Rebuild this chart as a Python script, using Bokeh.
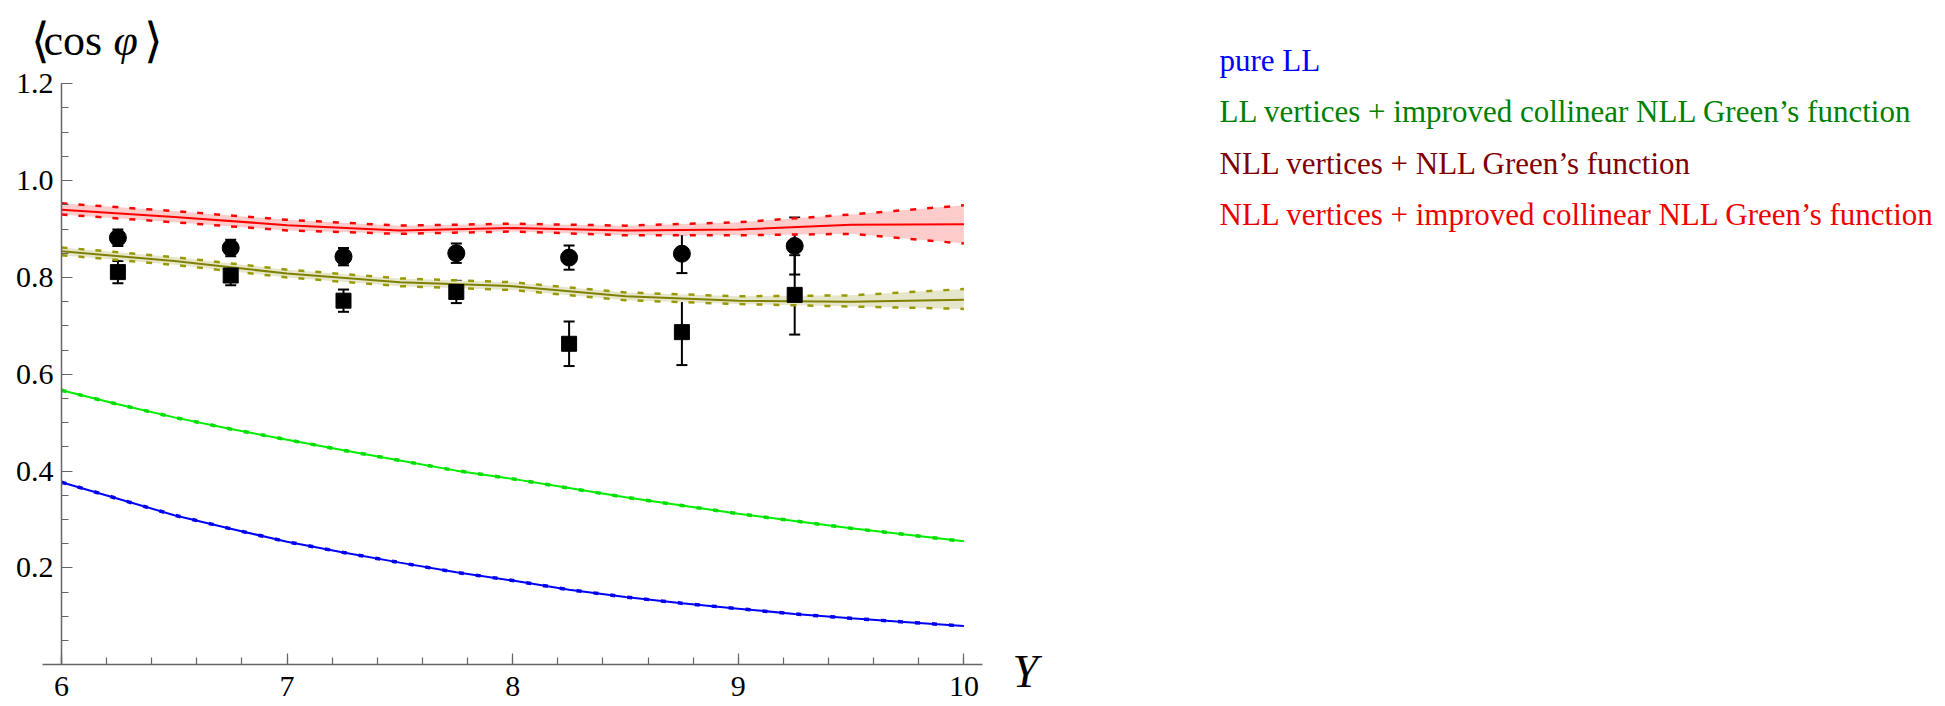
from bokeh.plotting import figure
from bokeh.models import (LinearAxis, FixedTicker, NumeralTickFormatter, Range1d,
                          ColumnDataSource, Whisker, TeeHead, Label)
from bokeh.embed import file_html
from bokeh.resources import INLINE

# ---------------- data ----------------
Y_fine = [6.0, 6.25, 6.5, 6.75, 7.0, 7.25, 7.5, 7.75, 8.0,
          8.25, 8.5, 8.75, 9.0, 9.25, 9.5, 9.75, 10.0]
pure_LL = [0.377, 0.343, 0.309, 0.281, 0.254, 0.232, 0.211, 0.191, 0.174,
           0.155, 0.140, 0.127, 0.116, 0.105, 0.096, 0.088, 0.080]
LL_impr = [0.567, 0.538, 0.511, 0.487, 0.465, 0.443, 0.422, 0.401, 0.384,
           0.365, 0.346, 0.329, 0.312, 0.297, 0.282, 0.2685, 0.255]

Y_grid = [6.0, 6.5, 7.0, 7.5, 8.0, 8.5, 9.0, 9.5, 10.0]
NLL_NLL = [0.854, 0.834, 0.808, 0.790, 0.782, 0.761, 0.752, 0.750, 0.754]
NLL_NLL_up = [0.862, 0.842, 0.816, 0.798, 0.790, 0.769, 0.761, 0.763, 0.776]
NLL_NLL_lo = [0.846, 0.826, 0.800, 0.782, 0.774, 0.753, 0.745, 0.740, 0.735]

NLL_impr = [0.940, 0.925, 0.908, 0.897, 0.902, 0.897, 0.899, 0.909, 0.910]
NLL_impr_up = [0.953, 0.937, 0.919, 0.907, 0.911, 0.907, 0.914, 0.930, 0.949]
NLL_impr_lo = [0.930, 0.914, 0.897, 0.890, 0.895, 0.887, 0.887, 0.890, 0.870]

Y_data = [6.25, 6.75, 7.25, 7.75, 8.25, 8.75, 9.25]
circ = [0.882, 0.861, 0.843, 0.850, 0.841, 0.849, 0.865]
circ_err = [0.017, 0.017, 0.018, 0.020, 0.025, 0.040, 0.059]
sq = [0.811, 0.804, 0.752, 0.770, 0.663, 0.687, 0.764]
sq_err = [0.023, 0.020, 0.023, 0.023, 0.046, 0.068, 0.082]

x_major = [6, 7, 8, 9, 10]
x_minor = [6 + 0.2 * i for i in range(21)]
y_major = [0.2, 0.4, 0.6, 0.8, 1.0, 1.2]
y_minor = [0.05 * i for i in range(25)]

legend_texts = ["pure LL",
                "LL vertices + improved collinear NLL Green\u2019s function",
                "NLL vertices + NLL Green\u2019s function",
                "NLL vertices + improved collinear NLL Green\u2019s function"]
legend_colors = ["#0000ff", "#008000", "#800000", "#ee0000"]

FONT = "Liberation Serif"

# ---------------- figure (frame covers the whole canvas) ----------------
p = figure(width=1945, height=706, output_backend="svg", toolbar_location=None,
           x_axis_location=None, y_axis_location=None,
           x_range=Range1d(5.72961, 14.35106), y_range=Range1d(-0.08612, 1.37195),
           min_border_left=0, min_border_right=0,
           min_border_top=0, min_border_bottom=0)
p.outline_line_color = None
p.background_fill_color = "white"
p.border_fill_color = "white"
p.xgrid.visible = False
p.ygrid.visible = False

# bands
p.varea(x=Y_grid, y1=NLL_impr_lo, y2=NLL_impr_up, fill_color="#ffcccc")
p.varea(x=Y_grid, y1=NLL_NLL_lo, y2=NLL_NLL_up, fill_color="#e6e6cc")

# band edges (dashed)
for ys in (NLL_impr_up, NLL_impr_lo):
    p.line(Y_grid, ys, line_color="#ff0000", line_width=2.5, line_dash="6 11")
for ys in (NLL_NLL_up, NLL_NLL_lo):
    p.line(Y_grid, ys, line_color="#999900", line_width=2.5, line_dash="6 11")

# central lines
p.line(Y_grid, NLL_impr, line_color="#ff0000", line_width=2)
p.line(Y_grid, NLL_NLL, line_color="#808000", line_width=2)
p.line(Y_fine, LL_impr, line_color="#00ee00", line_width=2)
p.line(Y_fine, LL_impr, line_color="#00dd00", line_width=3.5, line_dash="5 12")
p.line(Y_fine, pure_LL, line_color="#0000ff", line_width=2)
p.line(Y_fine, pure_LL, line_color="#0000ee", line_width=3.5, line_dash="5 12")

# data points with error bars
src_c = ColumnDataSource(dict(x=Y_data, y=circ,
                              lo=[v - e for v, e in zip(circ, circ_err)],
                              hi=[v + e for v, e in zip(circ, circ_err)]))
src_s = ColumnDataSource(dict(x=Y_data, y=sq,
                              lo=[v - e for v, e in zip(sq, sq_err)],
                              hi=[v + e for v, e in zip(sq, sq_err)]))
for src in (src_c, src_s):
    w = Whisker(base="x", lower="lo", upper="hi", source=src, line_color="black",
                line_width=2,
                upper_head=TeeHead(size=11, line_width=2, line_color="black"),
                lower_head=TeeHead(size=11, line_width=2, line_color="black"))
    p.add_layout(w)
p.scatter("x", "y", source=src_c, marker="circle", size=17,
          fill_color="black", line_color="black")
p.scatter("x", "y", source=src_s, marker="square", size=15,
          fill_color="black", line_color="black")

# ---------------- axes ----------------
xaxis = LinearAxis(fixed_location=0, bounds=(5.9158, 10.0825),
                   ticker=FixedTicker(ticks=x_major, minor_ticks=x_minor))
yaxis = LinearAxis(fixed_location=6, bounds=(0, 1.2),
                   ticker=FixedTicker(ticks=y_major, minor_ticks=y_minor),
                   formatter=NumeralTickFormatter(format="0.0"))
for ax in (xaxis, yaxis):
    ax.axis_line_color = "#666666"
    ax.axis_line_width = 1.5
    ax.major_tick_line_color = "#666666"
    ax.minor_tick_line_color = "#666666"
    ax.major_tick_line_width = 1.2
    ax.minor_tick_line_width = 1.2
    ax.major_tick_in = 11
    ax.major_tick_out = 0
    ax.minor_tick_in = 7
    ax.minor_tick_out = 0
    ax.major_label_text_font = FONT
    ax.major_label_text_font_size = "30px"
    ax.major_label_text_color = "black"
xaxis.major_label_standoff = 12
yaxis.major_label_standoff = 8
p.add_layout(xaxis, "below")
p.add_layout(yaxis, "left")

# ---------------- axis titles ----------------
lab_kw = dict(text_font=FONT, text_color="black", text_baseline="alphabetic")
p.add_layout(Label(x=5.8626, y=1.2894, text="\u27e8", text_font_size="48px", **lab_kw))
p.add_layout(Label(x=5.9202, y=1.2894, text="cos", text_font_size="44px", **lab_kw))
p.add_layout(Label(x=6.2305, y=1.2894, text="\u03c6", text_font_size="44px",
                   text_font_style="italic", **lab_kw))
p.add_layout(Label(x=6.3635, y=1.2894, text="\u27e9", text_font_size="48px", **lab_kw))
p.add_layout(Label(x=10.215, y=-0.0138, text="Y", text_font_size="46px",
                   text_font_style="italic", **lab_kw))

# ---------------- legend texts ----------------
leg_y = [1.248, 1.1427, 1.0353, 0.930]
for t, c, yy in zip(legend_texts, legend_colors, leg_y):
    p.add_layout(Label(x=11.133, y=yy, text=t, text_font=FONT, text_font_size="31px",
                       text_color=c, text_baseline="alphabetic"))

open("out.html", "w").write(file_html(p, INLINE))
